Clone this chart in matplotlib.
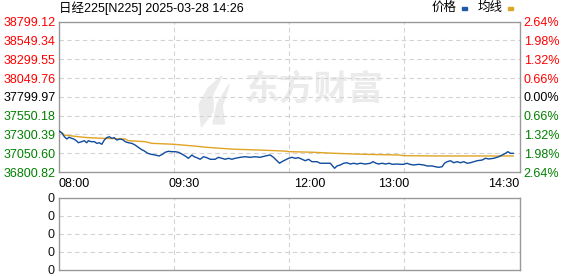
import matplotlib
matplotlib.use("Agg")
import matplotlib.pyplot as plt
from matplotlib.patches import Rectangle, Polygon

plt.rcParams["font.family"] = ["Liberation Sans", "Noto Sans CJK SC"]

# ── data (minutes into the session: 08:00-10:30, 11:30-14:30 -> 0..330) ──
price_min = [0, 2.3, 4.2, 5.9, 7.5, 9.5, 11.3, 13.0, 14.2, 16.6, 18.5, 20.2, 21.4,
             23.3, 25.7, 27.4, 29.2, 31.0, 32.8, 34.5, 36.4, 38.1, 40.0, 41.7,
             44.1, 46.4, 47.7, 50.0, 52.5, 54.8, 57.2, 59.1, 61.5, 63.9, 66.3,
             69.2, 72.0, 74.4, 76.3, 78.7, 81.1, 83.5, 85.9, 88.3, 90.7, 93.0,
             95.5, 97.1, 99.0, 101.4, 103.8, 106.2, 108.6, 112.1, 114.5, 117.0,
             119.3, 121.7, 124.1, 126.5, 130.1, 133.6, 137.2, 140.8, 144.4, 148.0,
             151.5, 153.9, 156.4, 158.2, 159.9, 162.3, 164.7, 167.1, 169.5, 171.8,
             174.3, 176.6, 179.0, 181.4, 185.0, 187.4, 194.6, 196.2, 197.6, 199.4,
             201.7, 204.1, 206.5, 208.9, 211.3, 213.7, 216.1, 219.6, 223.2, 225.2,
             227.3, 229.2, 231.6, 234.0, 236.8, 238.8, 242.4, 244.7, 247.1, 249.5,
             251.4, 254.3, 257.8, 261.4, 263.9, 267.4, 269.8, 272.2, 274.6, 276.3,
             278.2, 280.6, 282.9, 285.4, 287.7, 290.1, 292.5, 294.9, 297.3, 299.7,
             303.3, 305.6, 308.0, 311.6, 315.2, 317.6, 320.0, 321.6, 323.5, 325.5]
price_val = [37350, 37323, 37270, 37240, 37262, 37249, 37236, 37213, 37190, 37204,
             37217, 37190, 37217, 37204, 37204, 37182, 37190, 37169, 37226, 37257,
             37270, 37249, 37257, 37226, 37240, 37226, 37204, 37190, 37182, 37160,
             37129, 37103, 37080, 37049, 37036, 37027, 37014, 37036, 37063, 37076,
             37071, 37071, 37063, 37040, 37014, 36983, 37027, 37004, 36991, 36970,
             37004, 36991, 36970, 36970, 36996, 36983, 36970, 36983, 36970, 36983,
             36996, 37004, 36996, 37004, 36996, 37014, 37027, 36996, 36951, 36917,
             36938, 36960, 36983, 36996, 36983, 36991, 36970, 36951, 36970, 36938,
             36938, 36917, 36917, 36881, 36850, 36881, 36894, 36917, 36924, 36907,
             36917, 36907, 36917, 36907, 36917, 36938, 36917, 36907, 36917, 36907,
             36917, 36903, 36907, 36903, 36903, 36917, 36903, 36894, 36903, 36894,
             36881, 36881, 36871, 36863, 36871, 36917, 36938, 36951, 36924, 36938,
             36924, 36938, 36917, 36924, 36938, 36951, 36960, 36983, 36974, 36983,
             37004, 37027, 37049, 37071, 37049, 37049]

avg_min = [0, 4.7, 8.2, 14.2, 21.4, 31.0, 47.7, 50.0, 62.0, 66.8, 83.0, 88.3,
           96.6, 106.2, 115.7, 126.5, 143.2, 161.1, 165.4, 182.6, 198.1, 218.4,
           243.5, 247.6, 269.8, 325.5]
avg_val = [37350, 37289, 37283, 37270, 37257, 37249, 37240, 37217, 37204, 37182,
           37169, 37160, 37147, 37129, 37116, 37103, 37093, 37080, 37071, 37063,
           37049, 37036, 37027, 37018, 37014, 37014]

prev_close = 37799.97
y_ticks = [36800.82, 37050.60, 37300.39, 37550.18, 37799.97,
           38049.76, 38299.55, 38549.34, 38799.12]
pct_labels = ["2.64%", "1.98%", "1.32%", "0.66%", "0.00%",
              "0.66%", "1.32%", "1.98%", "2.64%"]
time_ticks = [0, 90, 180, 240, 330]
time_labels = ["08:00", "09:30", "12:00", "13:00", "14:30"]
total_min = 330

RED, GREEN, BLACK = "#ff0000", "#008000", "#000000"
GRID = "#d3d3d3"
SPINE = "#999999"
BLUE_LINE = "#0f4c9e"
AVG_LINE = "#e0a323"

def level_colour(v):
    if abs(v - prev_close) < 0.5:
        return BLACK
    return RED if v > prev_close else GREEN

fig = plt.figure(figsize=(5.78, 2.76), dpi=100)

# ── main price panel ─────────────────────────────────────────────────────
ax = fig.add_axes([58.5 / 578, 1 - 172 / 276, 461 / 578, 150.3 / 276])
ax.set_xlim(0, total_min)
ax.set_ylim(y_ticks[0], y_ticks[-1])

# watermark
ax.text(0.555, 0.555, "东方财富", transform=ax.transAxes, fontsize=25,
        fontweight="bold", color="#ebebeb", ha="center", va="center",
        family=["Noto Sans CJK SC"], zorder=0)
ax.add_patch(Polygon([(0.31, 0.3), (0.305, 0.45), (0.325, 0.56), (0.355, 0.64),
                      (0.335, 0.52), (0.335, 0.4)],
                     transform=ax.transAxes, color="#ebebeb", zorder=0))
ax.add_patch(Polygon([(0.335, 0.32), (0.345, 0.46), (0.37, 0.58), (0.355, 0.44),
                      (0.36, 0.32)],
                     transform=ax.transAxes, color="#ebebeb", zorder=0))

for t in [total_min / 4, total_min / 2, total_min * 3 / 4]:
    ax.axvline(t, color=GRID, lw=0.8, ls=(0, (4, 3)), zorder=1)
for v in y_ticks[1:-1]:
    ax.axhline(v, color=GRID, lw=0.8, ls=(0, (4, 3)), zorder=1)

ax.plot(avg_min, avg_val, color=AVG_LINE, lw=1.0, zorder=3)
ax.plot(price_min, price_val, color=BLUE_LINE, lw=1.0, zorder=4)

for s in ax.spines.values():
    s.set_color(SPINE)
    s.set_linewidth(1.0)

ax.set_yticks(y_ticks)
ax.set_yticklabels([f"{v:.2f}" for v in y_ticks], fontsize=9)
for lbl, v in zip(ax.get_yticklabels(), y_ticks):
    lbl.set_color(level_colour(v))
ax.tick_params(axis="y", length=0, pad=2)

ax.set_xticks(time_ticks)
ax.set_xticklabels(time_labels, fontsize=9)
ax.tick_params(axis="x", length=0, pad=4)
xl = ax.get_xticklabels()
xl[0].set_ha("left")
xl[-1].set_ha("right")

axr = ax.twinx()
axr.set_ylim(ax.get_ylim())
axr.set_yticks(y_ticks)
axr.set_yticklabels(pct_labels, fontsize=9)
for lbl, v in zip(axr.get_yticklabels(), y_ticks):
    lbl.set_color(level_colour(v))
axr.tick_params(axis="y", length=0, pad=3)
for s in axr.spines.values():
    s.set_visible(False)

# ── lower (volume) panel ─────────────────────────────────────────────────
axv = fig.add_axes([58.5 / 578, 1 - 270 / 276, 461 / 578, 72.5 / 276])
axv.set_xlim(0, total_min)
axv.set_ylim(0, 4)
for t in [total_min / 4, total_min / 2, total_min * 3 / 4]:
    axv.axvline(t, color=GRID, lw=0.8, ls=(0, (4, 3)))
for v in [1, 2, 3]:
    axv.axhline(v, color=GRID, lw=0.8, ls=(0, (4, 3)))
axv.set_xticks([])
axv.set_yticks([0, 1, 2, 3, 4])
axv.set_yticklabels(["0"] * 5, fontsize=9, color="#111111")
axv.tick_params(axis="y", length=0, pad=3)
for s in axv.spines.values():
    s.set_color(SPINE)
    s.set_linewidth(1.0)

# ── header: title and legend ─────────────────────────────────────────────
fig.text(59 / 578, 1 - 8 / 276, "日经225[N225] 2025-03-28 14:26", fontsize=9,
         ha="left", va="center")
fig.text(432 / 578, 1 - 8 / 276, "价格", fontsize=9, ha="left", va="center")
fig.patches.append(Rectangle((462 / 578, 1 - 9.5 / 276), 5 / 578, 2.5 / 276,
                             transform=fig.transFigure, color="#1f5aa8"))
fig.text(478 / 578, 1 - 8 / 276, "均线", fontsize=9, ha="left", va="center")
fig.patches.append(Rectangle((508 / 578, 1 - 9.5 / 276), 5 / 578, 2.5 / 276,
                             transform=fig.transFigure, color="#dba627"))

fig.savefig("out.png", dpi=100)
